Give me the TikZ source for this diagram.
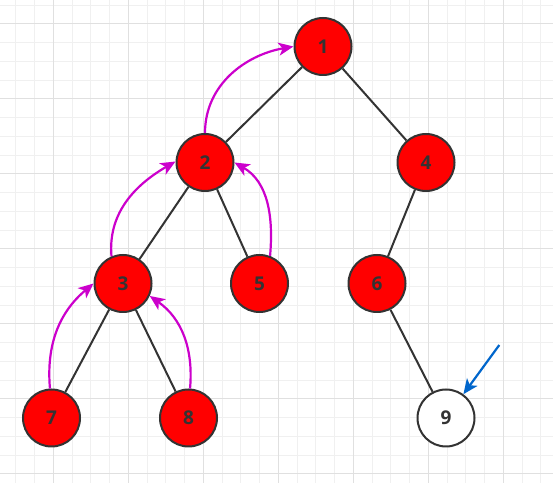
\documentclass[tikz,border=0pt]{standalone}
\usepackage{fontspec}
\setmainfont{Open Sans}
\usetikzlibrary{arrows.meta}
\definecolor{nodered}{RGB}{255,0,0}
\definecolor{edgegray}{RGB}{51,51,51}
\definecolor{climb}{RGB}{204,0,204}
\definecolor{pointer}{RGB}{0,102,204}
\definecolor{gridminor}{RGB}{240,240,240}
\definecolor{gridmajor}{RGB}{224,224,224}

\begin{document}
\begin{tikzpicture}[x=1bp, y=1bp,
  rb/.style={draw=edgegray, line width=2bp, circle, minimum size=57bp, inner sep=0pt,
    fill=nodered, text=edgegray, font=\fontsize{19bp}{23bp}\selectfont\bfseries},
  nil/.style={rb, fill=white},
  edge/.style={draw=edgegray, line width=2bp},
  up/.style={draw=climb, line width=2.2bp, -{Stealth[length=15bp,width=13bp,inset=4bp]}},
  ptr/.style={draw=pointer, line width=2.2bp, -{Stealth[length=15bp,width=13bp,inset=4bp]}}]
  \fill[white] (0,0) rectangle (553,483);
  \useasboundingbox (0,0) rectangle (553,483);

  \foreach \i in {0,...,28} \draw[gridminor, line width=1bp] (15.75+18.75*\i,0) -- ++(0,483);
  \foreach \i in {0,...,25} \draw[gridminor, line width=1bp] (0,477.75-18.75*\i) -- ++(553,0);
  \foreach \i in {0,...,6} \draw[gridmajor, line width=1bp] (53.25+75*\i,0) -- ++(0,483);
  \foreach \i in {0,...,6} \draw[gridmajor, line width=1bp] (0,459-75*\i) -- ++(553,0);

  \node[rb] (n1) at (323,436.5) {1};
  \node[rb] (n2) at (205,320.5) {2};
  \node[rb] (n4) at (426,320.5) {4};
  \node[rb] (n3) at (123,199.5) {3};
  \node[rb] (n5) at (259.5,199.5) {5};
  \node[rb] (n6) at (377,199.5) {6};
  \node[rb] (n7) at (51.5,65) {7};
  \node[rb] (n8) at (188.5,65) {8};
  \node[nil] (n9) at (446,65) {9};
  \coordinate (cur) at (499.3,138);

  \draw[edge] (n1) -- (n2);
  \draw[edge] (n1) -- (n4);
  \draw[edge] (n2) -- (n3);
  \draw[edge] (n2) -- (n5);
  \draw[edge] (n4) -- (n6);
  \draw[edge] (n3) -- (n7);
  \draw[edge] (n3) -- (n8);
  \draw[edge] (n6) -- (n9);

  \draw[up] (n2.north) to[out=90, in=190] (n1.180);
  \draw[up] (n3.113) to[out=95, in=210] (n2.178);
  \draw[up] (n5.69) to[out=85, in=-30] (n2.0);
  \draw[up] (n7.93) to[out=95, in=220] (n3.180);
  \draw[up] (n8.87) to[out=85, in=-35] (n3.-25);
  \draw[ptr] (cur) -- (n9);
\end{tikzpicture}
\end{document}
